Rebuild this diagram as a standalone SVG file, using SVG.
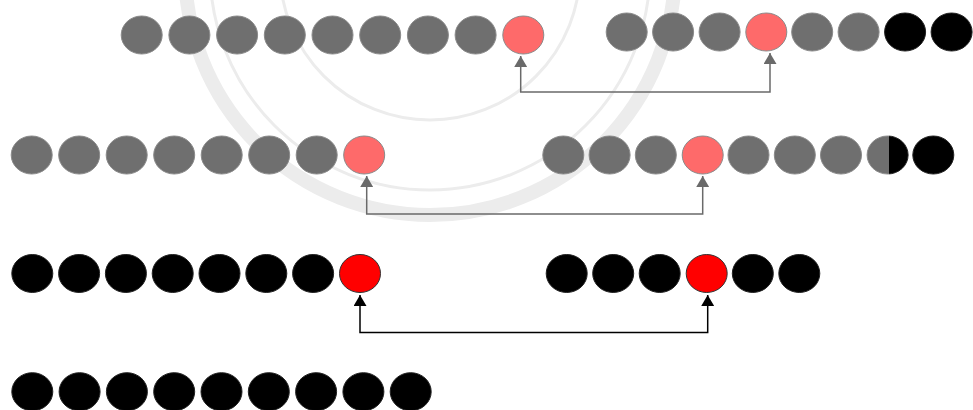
<svg xmlns="http://www.w3.org/2000/svg" width="973" height="410" viewBox="0 0 973 410">
<style>
.g{fill:#6f6f6f;stroke:#8a8a8a;stroke-width:1}
.fr{fill:#fe6a6a;stroke:#8a8a8a;stroke-width:1}
.k{fill:#000;stroke:#222;stroke-width:1}
.r{fill:#ff0000;stroke:#333;stroke-width:1}
.cg{fill:none;stroke:#6a6a6a;stroke-width:1.5}
.ck{fill:none;stroke:#000;stroke-width:1.5}
.wm{fill:none;stroke:#ececec}
</style>
<defs>
<marker id="ag" markerUnits="userSpaceOnUse" markerWidth="11" markerHeight="13" viewBox="0 0 11 13" refX="11" refY="6.5" orient="auto-start-reverse"><path d="M0,0 L11,6.5 L0,13 z" fill="#6a6a6a"/></marker>
<marker id="ak" markerUnits="userSpaceOnUse" markerWidth="11" markerHeight="13" viewBox="0 0 11 13" refX="11" refY="6.5" orient="auto-start-reverse"><path d="M0,0 L11,6.5 L0,13 z" fill="#000"/></marker>
<clipPath id="lh"><rect x="860" y="130" width="29" height="50"/></clipPath>
<clipPath id="rh"><rect x="889" y="130" width="30" height="50"/></clipPath>
</defs>
<rect width="973" height="410" fill="#fff"/>
<g id="watermark">
<circle class="wm" cx="430" cy="-30" r="245" stroke-width="14"/>
<circle class="wm" cx="430" cy="-30" r="220" stroke-width="3"/>
<circle class="wm" cx="430" cy="-30" r="150" stroke-width="3"/>
</g>
<g id="row1-left">
<ellipse class="g" cx="141.7" cy="35" rx="20.5" ry="19"/>
<ellipse class="g" cx="189.4" cy="35" rx="20.5" ry="19"/>
<ellipse class="g" cx="237.1" cy="35" rx="20.5" ry="19"/>
<ellipse class="g" cx="284.8" cy="35" rx="20.5" ry="19"/>
<ellipse class="g" cx="332.5" cy="35" rx="20.5" ry="19"/>
<ellipse class="g" cx="380.2" cy="35" rx="20.5" ry="19"/>
<ellipse class="g" cx="427.9" cy="35" rx="20.5" ry="19"/>
<ellipse class="g" cx="475.6" cy="35" rx="20.5" ry="19"/>
<ellipse class="fr" cx="523.3" cy="35" rx="20.5" ry="19"/>
</g>
<g id="row1-right">
<ellipse class="g" cx="626.7" cy="32" rx="20.5" ry="19"/>
<ellipse class="g" cx="673.1" cy="32" rx="20.5" ry="19"/>
<ellipse class="g" cx="719.6" cy="32" rx="20.5" ry="19"/>
<ellipse class="fr" cx="766.3" cy="32" rx="20.5" ry="19"/>
<ellipse class="g" cx="812.2" cy="32" rx="20.5" ry="19"/>
<ellipse class="g" cx="858.6" cy="32" rx="20.5" ry="19"/>
<ellipse class="k" cx="905.1" cy="32" rx="20.5" ry="19"/>
<ellipse class="k" cx="951.6" cy="32" rx="20.5" ry="19"/>
</g>
<g id="row2-left">
<ellipse class="g" cx="31.7" cy="155" rx="20.5" ry="19"/>
<ellipse class="g" cx="79.2" cy="155" rx="20.5" ry="19"/>
<ellipse class="g" cx="126.7" cy="155" rx="20.5" ry="19"/>
<ellipse class="g" cx="174.2" cy="155" rx="20.5" ry="19"/>
<ellipse class="g" cx="221.7" cy="155" rx="20.5" ry="19"/>
<ellipse class="g" cx="269.2" cy="155" rx="20.5" ry="19"/>
<ellipse class="g" cx="316.7" cy="155" rx="20.5" ry="19"/>
<ellipse class="fr" cx="364.2" cy="155" rx="20.5" ry="19"/>
</g>
<g id="row2-right">
<ellipse class="g" cx="563.3" cy="155" rx="20.5" ry="19"/>
<ellipse class="g" cx="609.6" cy="155" rx="20.5" ry="19"/>
<ellipse class="g" cx="655.8" cy="155" rx="20.5" ry="19"/>
<ellipse class="fr" cx="702.7" cy="155" rx="20.5" ry="19"/>
<ellipse class="g" cx="748.5" cy="155" rx="20.5" ry="19"/>
<ellipse class="g" cx="794.8" cy="155" rx="20.5" ry="19"/>
<ellipse class="g" cx="841" cy="155" rx="20.5" ry="19"/>
<ellipse class="g" cx="887.6" cy="155" rx="20.5" ry="19" clip-path="url(#lh)"/>
<ellipse class="k" cx="887.6" cy="155" rx="20.5" ry="19" clip-path="url(#rh)"/>
<ellipse class="k" cx="933.3" cy="155" rx="20.5" ry="19"/>
</g>
<g id="row3-left">
<ellipse class="k" cx="32.3" cy="273.5" rx="20.5" ry="19"/>
<ellipse class="k" cx="79.1" cy="273.5" rx="20.5" ry="19"/>
<ellipse class="k" cx="125.9" cy="273.5" rx="20.5" ry="19"/>
<ellipse class="k" cx="172.7" cy="273.5" rx="20.5" ry="19"/>
<ellipse class="k" cx="219.5" cy="273.5" rx="20.5" ry="19"/>
<ellipse class="k" cx="266.3" cy="273.5" rx="20.5" ry="19"/>
<ellipse class="k" cx="313.1" cy="273.5" rx="20.5" ry="19"/>
<ellipse class="r" cx="360" cy="273.5" rx="20.5" ry="19"/>
</g>
<g id="row3-right">
<ellipse class="k" cx="566.7" cy="273.5" rx="20.5" ry="19"/>
<ellipse class="k" cx="613.2" cy="273.5" rx="20.5" ry="19"/>
<ellipse class="k" cx="659.7" cy="273.5" rx="20.5" ry="19"/>
<ellipse class="r" cx="706.7" cy="273.5" rx="20.5" ry="19"/>
<ellipse class="k" cx="752.8" cy="273.5" rx="20.5" ry="19"/>
<ellipse class="k" cx="799.3" cy="273.5" rx="20.5" ry="19"/>
</g>
<g id="row4">
<ellipse class="k" cx="32.3" cy="391.7" rx="20.5" ry="19"/>
<ellipse class="k" cx="79.6" cy="391.7" rx="20.5" ry="19"/>
<ellipse class="k" cx="126.9" cy="391.7" rx="20.5" ry="19"/>
<ellipse class="k" cx="174.2" cy="391.7" rx="20.5" ry="19"/>
<ellipse class="k" cx="221.5" cy="391.7" rx="20.5" ry="19"/>
<ellipse class="k" cx="268.8" cy="391.7" rx="20.5" ry="19"/>
<ellipse class="k" cx="316.1" cy="391.7" rx="20.5" ry="19"/>
<ellipse class="k" cx="363.4" cy="391.7" rx="20.5" ry="19"/>
<ellipse class="k" cx="410.7" cy="391.7" rx="20.5" ry="19"/>
</g>
<g id="connectors">
<path class="cg" d="M520.7,56 V92 H770 V53" marker-start="url(#ag)" marker-end="url(#ag)"/>
<path class="cg" d="M366.7,176 V214 H702.7 V176" marker-start="url(#ag)" marker-end="url(#ag)"/>
<path class="ck" d="M360,295 V332.5 H707.7 V295" marker-start="url(#ak)" marker-end="url(#ak)"/>
</g>
</svg>
